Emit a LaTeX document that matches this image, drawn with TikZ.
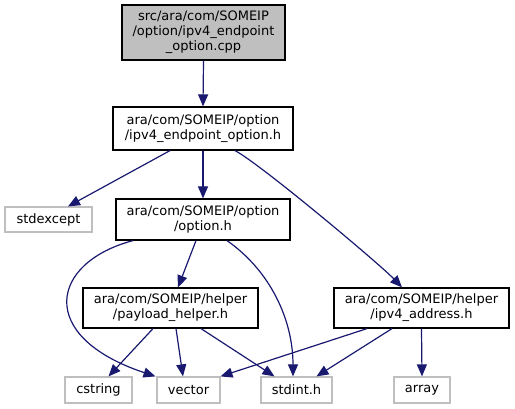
\documentclass[tikz,border=0pt]{standalone}
\usepackage{fontspec}
\setmainfont{DejaVu Sans}
\usetikzlibrary{arrows.meta}
\definecolor{edgeblue}{HTML}{191970}
\definecolor{leafgray}{HTML}{BFBFBF}
\begin{document}
\begin{tikzpicture}[x=1pt,y=-1pt,
  box/.style={draw=black,line width=1.2pt,fill=white,inner sep=0pt,align=center,font=\fontsize{13}{15}\selectfont},
  leaf/.style={box,draw=leafgray},
  dep/.style={draw=edgeblue,line width=1.2pt,-{Triangle[length=12pt,width=10pt]}}]
\useasboundingbox (0,0) rectangle (515,409);
\node[box,fill=leafgray,minimum width=163pt,minimum height=55pt] (cpp) at (203.5,32.5) {src/ara/com/SOMEIP\\/option/ipv4\_endpoint\\\_option.cpp};
\node[box,minimum width=180pt,minimum height=43pt] (ep) at (203,128.5) {ara/com/SOMEIP/option\\/ipv4\_endpoint\_option.h};
\node[leaf,minimum width=87pt,minimum height=25pt] (stdexcept) at (48.5,219.5) {stdexcept};
\node[box,minimum width=174pt,minimum height=41pt] (opt) at (203,219.5) {ara/com/SOMEIP/option\\/option.h};
\node[box,minimum width=175pt,minimum height=40pt] (payload) at (170.5,308) {ara/com/SOMEIP/helper\\/payload\_helper.h};
\node[box,minimum width=175pt,minimum height=40pt] (addr) at (421.5,308) {ara/com/SOMEIP/helper\\/ipv4\_address.h};
\node[leaf,minimum width=67pt,minimum height=26pt] (cstring) at (98.5,390) {cstring};
\node[leaf,minimum width=63pt,minimum height=26pt] (vector) at (188.5,390) {vector};
\node[leaf,minimum width=71pt,minimum height=26pt] (stdint) at (296.5,390) {stdint.h};
\node[leaf,minimum width=56pt,minimum height=26pt] (array) at (422,390) {array};

\draw[dep] (cpp.south) -- (ep.north);
\draw[dep] ([xshift=-33pt]ep.south) -- ([xshift=19.5pt]stdexcept.north);
\draw[dep] (ep.south) -- (opt.north);
\draw[dep] ([xshift=32pt]ep.south) .. controls +(25,13) and +(-22,-23) .. ([xshift=-19.5pt]addr.north);
\draw[dep] ([xshift=-7pt]opt.south) -- ([xshift=7.5pt]payload.north);
\draw[dep] ([xshift=-70pt]opt.south) .. controls +(-83,22) and +(-120,-40) .. ([xshift=-33pt]vector.north);
\draw[dep] ([xshift=24pt]opt.south) .. controls +(43,30) and +(0,-57) .. ([xshift=-3.5pt]stdint.north);
\draw[dep] ([xshift=-17.5pt]payload.south) -- ([xshift=10pt]cstring.north);
\draw[dep] ([xshift=5.5pt]payload.south) -- ([xshift=-5.5pt]vector.north);
\draw[dep] ([xshift=30.5pt]payload.south) -- ([xshift=-22pt]stdint.north);
\draw[dep] ([xshift=-54.5pt]addr.south) -- ([xshift=32pt]vector.north);
\draw[dep] ([xshift=-29.5pt]addr.south) -- ([xshift=20pt]stdint.north);
\draw[dep] (addr.south) -- (array.north);
\end{tikzpicture}
\end{document}
